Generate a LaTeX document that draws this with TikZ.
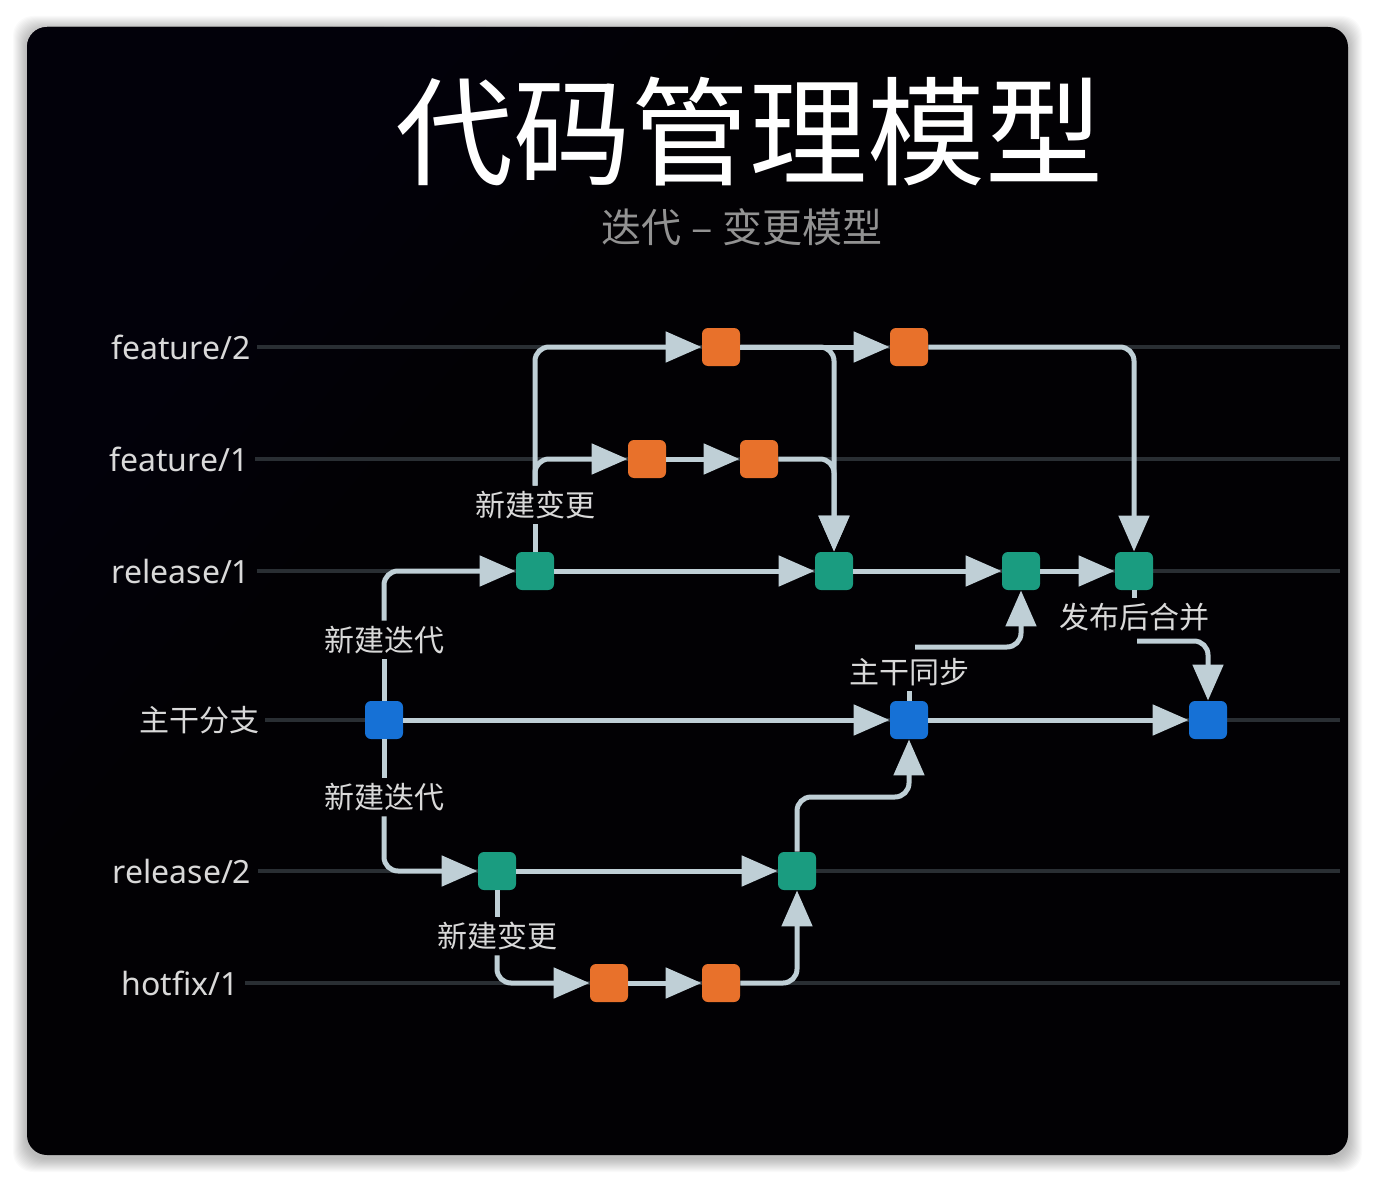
\documentclass[tikz,border=0pt]{standalone}
\usepackage{fontspec}
\setmainfont{Noto Sans}
\newfontfamily\cjk{Noto Sans CJK SC}
\usetikzlibrary{arrows.meta}

\definecolor{bgblack}{HTML}{020104}
\definecolor{tintc}{HTML}{0A0512}
\definecolor{lanec}{HTML}{292E33}
\definecolor{conc}{HTML}{BFCFD6}
\definecolor{orangec}{HTML}{E8712B}
\definecolor{greenc}{HTML}{1A9C80}
\definecolor{bluec}{HTML}{1671D6}
\definecolor{labc}{HTML}{D9D9D9}
\definecolor{subc}{HTML}{929292}

\begin{document}
\begin{tikzpicture}[x=0.5pt,y=-0.5pt,
  commit/.style={rounded corners=3pt, minimum width=19pt, minimum height=19pt, inner sep=0pt},
  fc/.style={commit, fill=orangec},
  rc/.style={commit, fill=greenc},
  mc/.style={commit, fill=bluec},
  lane/.style={draw=lanec, line width=2pt},
  conn/.style={draw=conc, line width=2.5pt, rounded corners=7pt},
  arr/.style={conn, -{Triangle[length=18pt,width=15pt]}},
  lanelab/.style={text=labc, font=\fontsize{16}{18}\selectfont, inner sep=0pt},
  cjklab/.style={text=labc, font=\cjk\fontsize{15}{17}\selectfont, inner sep=0pt},
  evlab/.style={text=labc, font=\cjk\fontsize{15}{17}\selectfont, inner sep=2.5pt},
]
\useasboundingbox (0,0) rectangle (1374,1182);
\fill[white] (0,0) rectangle (1374,1182);
\foreach \i in {1,...,14} {
  \fill[black, opacity=0.018, rounded corners=10pt] ({27-\i},{27-\i+3}) rectangle ({1348+\i},{1155+\i+3});
}
\fill[bgblack, rounded corners=10pt] (27,27) rectangle (1348,1155);
\begin{scope}
  \clip[rounded corners=10pt] (27,27) rectangle (1348,1155);
  \foreach \s in {300,360,...,840} {
    \fill[tintc, opacity=0.12] (27,27) -- ({27+\s*0.85},27) -- (27,{27+\s}) -- cycle;
  }
\end{scope}

% titles
\node[text=white, font=\cjk\fontsize{59}{61}\selectfont] (title) at (749,132) {代码管理模型};
\node[text=subc, font=\cjk\fontsize{20}{22}\selectfont] (sub) at (742,227) {迭代\hspace{5pt}–\hspace{5pt}变更模型};

% lanes
\coordinate (xr) at (1340,0);
\node[lanelab] (Lf2) at (181,347) {feature/2};
\node[lanelab] (Lf1) at (179,459) {feature/1};
\node[lanelab] (Lr1) at (181,571) {release/1};
\node[cjklab] (Lm) at (199,720) {主干分支};
\node[lanelab] (Lr2) at (182,871) {release/2};
\node[lanelab] (Lh1) at (180,983) {hotfix/1};
\foreach \n in {Lf2,Lf1,Lr1,Lm,Lr2,Lh1} {
  \draw[lane] ([xshift=3pt]\n.east) -- (\n.east -| xr);
}

% commits
\node[fc] (F2a) at (721,347) {};
\node[fc] (F2b) at (909,347) {};
\node[fc] (F1a) at (647,459) {};
\node[fc] (F1b) at (759,459) {};
\node[rc] (R1a) at (535,571) {};
\node[rc] (R1b) at (834,571) {};
\node[rc] (R1c) at (1021,571) {};
\node[rc] (R1d) at (1134,571) {};
\node[mc] (M1) at (384,720) {};
\node[mc] (M2) at (909,720) {};
\node[mc] (M3) at (1208,720) {};
\node[rc] (R2a) at (497,871) {};
\node[rc] (R2b) at (797,871) {};
\node[fc] (H1) at (609,983) {};
\node[fc] (H2) at (721,983) {};

% event labels
\node[evlab] (Lit1) at (384,640) {新建迭代};
\node[evlab] (Lit2) at (384,797) {新建迭代};
\node[evlab] (Lch1) at (535,505) {新建变更};
\node[evlab] (Lch2) at (497,936) {新建变更};
\node[evlab] (Lsync) at (909,672) {主干同步};
\node[evlab] (Lrel) at (1134,617) {发布后合并};
\coordinate (relS) at (1137,641);
\coordinate (syncS) at (915,647);
\coordinate (r2mid) at (909,797);

% connectors
\draw[conn] (M1) -- (Lit1);
\draw[arr] (Lit1) |- (R1a);
\draw[conn] (M1) -- (Lit2);
\draw[arr] (Lit2) |- (R2a);
\draw[arr] (M1) -- (M2);
\draw[arr] (M2) -- (M3);
\draw[conn] (R1a) -- (Lch1);
\draw[arr] (Lch1) |- (F2a);
\draw[arr] (Lch1) |- (F1a);
\draw[arr] (F1a) -- (F1b);
\draw[arr] (F2a) -- (F2b);
\draw[arr] (F2a) -| (R1b);
\draw[arr] (F1b) -| (R1b);
\draw[arr] (R1a) -- (R1b);
\draw[arr] (R1b) -- (R1c);
\draw[arr] (R1c) -- (R1d);
\draw[arr] (F2b) -| (R1d);
\draw[conn] (R1d) -- (Lrel);
\draw[arr] (relS) -| (M3);
\draw[conn] (M2) -- (Lsync);
\draw[arr] (syncS) -| (R1c);
\draw[arr] (R2b) |- (r2mid) -- (M2);
\draw[arr] (R2a) -- (R2b);
\draw[conn] (R2a) -- (Lch2);
\draw[arr] (Lch2) |- (H1);
\draw[arr] (H1) -- (H2);
\draw[arr] (H2) -| (R2b);
\end{tikzpicture}
\end{document}
